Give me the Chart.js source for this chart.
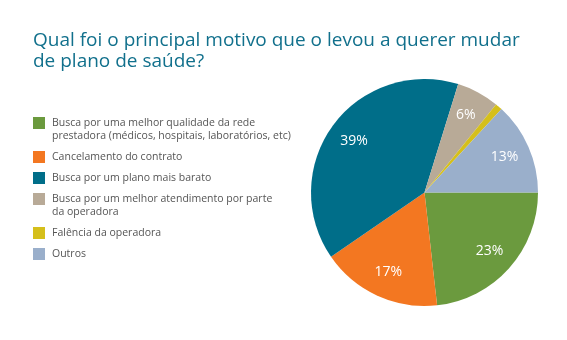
<!DOCTYPE html>
<html>
<head>
<meta charset="utf-8">
<script src="https://cdn.jsdelivr.net/npm/chart.js@4"></script>
<style>
  html, body { margin: 0; padding: 0; background: #fff; }
  #wrap { position: relative; width: 567px; height: 340px; font-family: "Open Sans", sans-serif; }
  #chart { position: absolute; left: 0; top: 0; }
  #title { position: absolute; left: 33px; top: 29px; margin: 0; font-size: 19px; font-weight: 400; line-height: 21px; color: #11708c; white-space: nowrap; }
  #legend { position: absolute; left: 33px; top: 116px; margin: 0; padding: 0; list-style: none; font-size: 10.5px; line-height: 13px; color: #555; white-space: nowrap; }
  #legend li { position: relative; padding-left: 19px; margin-bottom: 8px; }
  #legend li span { position: absolute; left: 0; top: 1px; width: 12px; height: 12px; }
</style>
</head>
<body>
<div id="wrap">
  <canvas id="chart"></canvas>
  <div id="title">Qual foi o principal motivo que o levou a querer mudar<br>de plano de saúde?</div>
  <ul id="legend"></ul>
</div>
<script>
var labels = [
  ['Busca por uma melhor qualidade da rede', 'prestadora (médicos, hospitais, laboratórios, etc)'],
  ['Cancelamento do contrato'],
  ['Busca por um plano mais barato'],
  ['Busca por um melhor atendimento por parte', 'da operadora'],
  ['Falência da operadora'],
  ['Outros']
];
var values = [23, 17, 39, 6, 1, 13];
var valueLabels = ['23%', '17%', '39%', '6%', '', '13%'];
var colors = ['#6b9a3e', '#f37721', '#006e89', '#b8aa97', '#d5bf1b', '#9aafcb'];

var ctx = document.getElementById('chart').getContext('2d');
ctx.canvas.width = 567;
ctx.canvas.height = 340;

// percentages written inside each slice
var sliceLabels = {
  id: 'sliceLabels',
  afterDatasetsDraw: function(chart) {
    var c = chart.ctx;
    var meta = chart.getDatasetMeta(0);
    c.save();
    c.fillStyle = '#fff';
    c.font = '14px "Open Sans"';
    c.textAlign = 'center';
    c.textBaseline = 'middle';
    meta.data.forEach(function(arc, i) {
      if (!valueLabels[i]) return;
      var p = arc.getProps(['x', 'y', 'startAngle', 'endAngle', 'outerRadius'], true);
      var mid = (p.startAngle + p.endAngle) / 2;
      var r = p.outerRadius * 0.77;
      c.fillText(valueLabels[i], p.x + Math.cos(mid) * r, p.y + Math.sin(mid) * r);
    });
    c.restore();
  }
};

var chart = new Chart(ctx, {
  type: 'pie',
  data: {
    labels: labels,
    datasets: [{
      data: values,
      backgroundColor: colors,
      borderWidth: 0
    }]
  },
  options: {
    responsive: false,
    animation: false,
    rotation: 90,
    layout: { padding: { left: 311, right: 29, top: 79, bottom: 34 } },
    plugins: {
      legend: { display: false },
      tooltip: { enabled: false }
    }
  },
  plugins: [sliceLabels]
});

// legend list beside the pie
var legend = document.getElementById('legend');
labels.forEach(function(lines, i) {
  var li = document.createElement('li');
  var box = document.createElement('span');
  box.style.background = colors[i];
  li.appendChild(box);
  lines.forEach(function(t, j) {
    if (j) li.appendChild(document.createElement('br'));
    li.appendChild(document.createTextNode(t));
  });
  legend.appendChild(li);
});
</script>
</body>
</html>
